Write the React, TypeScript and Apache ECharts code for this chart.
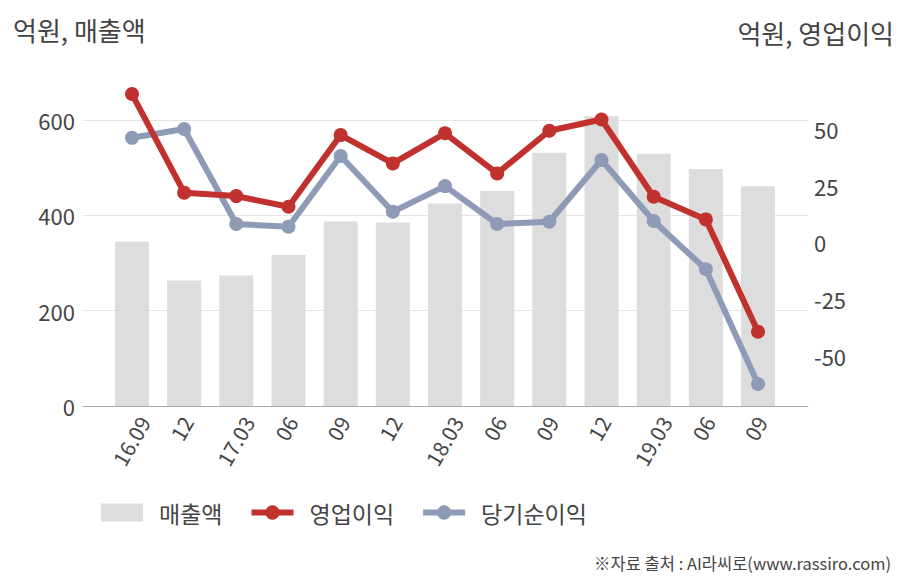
import React, { useEffect, useRef } from "react";
import * as echarts from "echarts";

const categories = ["16.09", "12", "17.03", "06", "09", "12", "18.03", "06", "09", "12", "19.03", "06", "09"];
const sales = [345, 263, 274, 317, 387, 385, 425, 451, 531, 608, 529, 497, 461];
const operatingProfit = [65.4, 21.9, 20.4, 15.7, 47.3, 34.8, 48.1, 30.4, 49.2, 54.2, 20.1, 10.1, -39.4];
const netIncome = [46.1, 50.0, 8.1, 6.9, 38.1, 13.5, 24.8, 8.1, 9.1, 36.3, 9.4, -11.9, -62.5];
const rightTicks = [-50, -25, 0, 25, 50];

const FONT = "'Noto Sans CJK KR', 'Noto Sans', sans-serif";
const TEXT = "#444444";
const RED = "#c1312e";
const BLUE = "#8e9bb7";
const BAR = "#dddddd";

const LEFT_MIN = 0;
const LEFT_MAX = 700;
const RIGHT_MIN = -72.2;
const RIGHT_MAX = 75;

export default function App() {
  const ref = useRef<HTMLDivElement>(null);

  useEffect(() => {
    if (!ref.current) return;
    const chart = echarts.init(ref.current, null, { renderer: "svg" });
    const top = 72.3;
    const bottom = 174;
    const dataLeft = 105.9;
    const dataRight = 123.9;
    const longShift = 12;
    const shortShift = 3;
    const isLong = (v: string) => v.indexOf(".") >= 0;
    const labelAxisBase = {
      type: "category" as const,
      data: categories,
      axisLine: { show: false },
      axisTick: { show: false },
      splitLine: { show: false },
    };
    const labelStyle = {
      rotate: 60,
      fontSize: 21,
      color: TEXT,
      fontFamily: FONT,
      margin: 12,
      interval: 0,
    };

    chart.setOption({
      animation: false,
      textStyle: { fontFamily: FONT },
      title: [
        {
          text: "억원, 매출액",
          left: 8,
          top: 11,
          textStyle: { fontSize: 26, fontWeight: "normal", color: TEXT, fontFamily: FONT },
        },
        {
          text: "억원, 영업이익",
          right: 9,
          top: 14,
          textStyle: { fontSize: 26, fontWeight: "normal", color: TEXT, fontFamily: FONT },
        },
        {
          text: "※자료 출처 : AI라씨로(www.rassiro.com)",
          right: 12,
          bottom: 4,
          textStyle: { fontSize: 16.5, fontWeight: "normal", color: TEXT, fontFamily: FONT },
        },
      ],
      legend: {
        left: 96,
        top: 496,
        itemWidth: 42,
        itemHeight: 18,
        itemGap: 26,
        textStyle: { fontSize: 23, color: TEXT, fontFamily: FONT, padding: [0, 0, 0, 11] },
        data: [
          { name: "매출액", icon: "rect" },
          { name: "영업이익", lineStyle: { width: 6 } },
          { name: "당기순이익", lineStyle: { width: 6 } },
        ],
      },
      grid: [
        { left: 83, right: 100, top, bottom },
        { left: dataLeft, right: dataRight, top, bottom },
        { left: dataLeft + longShift, right: dataRight - longShift, top, bottom },
        { left: dataLeft + shortShift, right: dataRight - shortShift, top, bottom },
      ],
      xAxis: [
        {
          gridIndex: 0,
          type: "category",
          data: [""],
          axisLine: { show: true, lineStyle: { color: "#aaaaaa", width: 1 } },
          axisTick: { show: false },
          axisLabel: { show: false },
        },
        {
          gridIndex: 1,
          type: "category",
          data: categories,
          show: false,
        },
        {
          gridIndex: 2,
          ...labelAxisBase,
          axisLabel: { ...labelStyle, formatter: (v: string) => (isLong(v) ? v : "") },
        },
        {
          gridIndex: 3,
          ...labelAxisBase,
          axisLabel: { ...labelStyle, formatter: (v: string) => (isLong(v) ? "" : v) },
        },
      ],
      yAxis: [
        {
          gridIndex: 0,
          type: "value",
          position: "left",
          min: LEFT_MIN,
          max: LEFT_MAX,
          interval: 200,
          axisLine: { show: false },
          axisTick: { show: false },
          axisLabel: {
            fontSize: 22,
            color: TEXT,
            fontFamily: FONT,
            margin: 8,
            showMaxLabel: false,
          },
          splitLine: {
            show: true,
            lineStyle: {
              color: ["rgba(0,0,0,0)", "#e4e4e4", "#e4e4e4", "#e4e4e4", "rgba(0,0,0,0)"],
              width: 1,
            },
          },
        },
        {
          gridIndex: 0,
          type: "value",
          position: "right",
          min: RIGHT_MIN,
          max: RIGHT_MAX,
          axisLine: { show: false },
          axisTick: { show: false },
          splitLine: { show: false },
          axisLabel: {
            fontSize: 22,
            color: TEXT,
            fontFamily: FONT,
            margin: 6,
            customValues: rightTicks,
          },
        },
        { gridIndex: 1, type: "value", min: LEFT_MIN, max: LEFT_MAX, show: false },
        { gridIndex: 1, type: "value", min: RIGHT_MIN, max: RIGHT_MAX, show: false },
        { gridIndex: 2, type: "value", show: false },
        { gridIndex: 3, type: "value", show: false },
      ],
      series: [
        {
          name: "매출액",
          type: "bar",
          xAxisIndex: 1,
          yAxisIndex: 2,
          data: sales,
          barWidth: 34,
          itemStyle: { color: BAR },
        },
        {
          name: "당기순이익",
          type: "line",
          xAxisIndex: 1,
          yAxisIndex: 3,
          data: netIncome,
          symbol: "circle",
          symbolSize: 14,
          lineStyle: { color: BLUE, width: 6 },
          itemStyle: { color: BLUE },
        },
        {
          name: "영업이익",
          type: "line",
          xAxisIndex: 1,
          yAxisIndex: 3,
          data: operatingProfit,
          symbol: "circle",
          symbolSize: 14,
          lineStyle: { color: RED, width: 6 },
          itemStyle: { color: RED },
        },
      ],
    });
    return () => chart.dispose();
  }, []);

  return <div ref={ref} style={{ width: 908, height: 580, position: "absolute", left: 0, top: 0 }} />;
}
